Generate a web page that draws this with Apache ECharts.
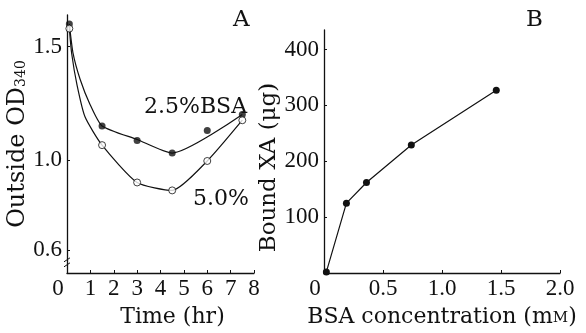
<!DOCTYPE html>
<html>
<head>
    <meta charset="utf-8" />
    <title></title>
    <style>
        body { margin: 0; background: #fff; }
        #chart { width: 586px; height: 333px; }
    </style>
</head>
<body>
    <div id="chart"></div>
    <script src="https://cdn.jsdelivr.net/npm/echarts@6/dist/echarts.min.js"></script>
    <script>
        // panel A: outside OD340 vs time
        var timeTicks = [0, 1, 2, 3, 4, 5, 6, 7, 8];
        var odTicks = [0.6, 1.0, 1.5];
        var bsa25Points = [[0.1, 1.6], [1.5, 1.15], [3, 1.085], [4.5, 1.03], [6, 1.13], [7.5, 1.2]];
        var bsa25Curve = [[0.1, 1.6], [0.26, 1.47], [0.56, 1.356], [0.98, 1.246], [1.5, 1.15], [3, 1.09], [4.5, 1.03], [7.5, 1.2]];
        var bsa50Points = [[0.1, 1.58], [1.5, 1.065], [3, 0.9], [4.5, 0.865], [6, 0.995], [7.5, 1.175]];
        var bsa50Curve = [[0.1, 1.58], [0.2, 1.47], [0.43, 1.33], [0.77, 1.19], [1.5, 1.065], [3, 0.9], [4.5, 0.865], [6, 0.995], [7.5, 1.175]];

        // panel B: bound XA vs BSA concentration
        var concTicks = [0, 0.5, 1.0, 1.5, 2.0];
        var boundTicks = [100, 200, 300, 400];
        var boundXA = [[0.02, 2], [0.19, 125], [0.36, 162], [0.74, 229], [1.46, 327]];

        var font = 'Liberation Serif';
        var wide = 'DejaVu Serif';
        var ink = '#111';

        var axisBase = {
            axisLine: { show: true, lineStyle: { color: ink, width: 1.3 } },
            axisTick: { show: true, inside: true, length: 3, lineStyle: { color: ink } },
            splitLine: { show: false },
            axisLabel: { color: ink, fontFamily: font, fontSize: 23 },
            nameTextStyle: { color: ink, fontFamily: wide, fontSize: 22 }
        };
        function ax(extra) {
            return echarts.util.merge(echarts.util.clone(axisBase), extra, true);
        }
        function note(text, left, top, size) {
            return { text: text, left: left, top: top, textStyle: { fontFamily: wide, fontSize: size, fontWeight: 'normal', color: ink } };
        }

        var option = {
            backgroundColor: '#fff',
            animation: false,
            title: [
                note('A', 228, 4, 23),
                note('B', 521, 4, 23),
                note('2.5%BSA', 139, 91, 22),
                note('5.0%', 188, 183, 22)
            ],
            grid: [
                { left: 67, right: 332, top: 15, bottom: 49 },
                { left: 324, right: 26, top: 30, bottom: 51 }
            ],
            xAxis: [
                ax({
                    gridIndex: 0, type: 'value', min: 0, max: 8,
                    axisTick: { customValues: timeTicks },
                    axisLabel: {
                        customValues: timeTicks, margin: 4,
                        formatter: function (v) { return v === 0 ? '{z|0}' : String(v); },
                        rich: { z: { fontFamily: font, fontSize: 23, color: ink, padding: [0, 18, 0, 0] } }
                    },
                    name: 'Time (hr)', nameLocation: 'middle', nameGap: 33,
                    nameTextStyle: { padding: [0, 0, 0, 24] }
                }),
                ax({
                    gridIndex: 1, type: 'value', min: 0, max: 2,
                    axisTick: { customValues: concTicks },
                    axisLabel: {
                        customValues: concTicks, margin: 4,
                        formatter: function (v) { return v === 0 ? '{z|0}' : v.toFixed(1); },
                        rich: { z: { fontFamily: font, fontSize: 23, color: ink, padding: [0, 18, 0, 0] } }
                    },
                    name: 'BSA concentration (m{s|M})', nameLocation: 'middle', nameGap: 33,
                    nameTextStyle: { rich: { s: { fontFamily: wide, fontSize: 15, color: ink, padding: [3, 0, 0, 0] } } }
                })
            ],
            yAxis: [
                ax({
                    gridIndex: 0, type: 'value', min: 0.5, max: 1.64,
                    axisTick: { customValues: odTicks },
                    axisLabel: {
                        customValues: odTicks, margin: 5,
                        formatter: function (v) { return v.toFixed(1); }
                    },
                    name: 'Outside OD{sub|340}', nameLocation: 'middle', nameGap: 35, nameRotate: 90,
                    nameTextStyle: {
                        fontSize: 24,
                        rich: { sub: { fontFamily: wide, fontSize: 14, color: ink, padding: [9, 0, 0, 0] } }
                    }
                }),
                ax({
                    gridIndex: 1, type: 'value', min: 0, max: 435,
                    axisTick: { customValues: boundTicks },
                    axisLabel: { customValues: boundTicks, margin: 5 },
                    name: 'Bound XA (μg)', nameLocation: 'middle', nameGap: 42, nameRotate: 90,
                    nameTextStyle: { fontSize: 23, padding: [0, 32, 0, 0] }
                })
            ],
            series: [
                {
                    type: 'line', xAxisIndex: 0, yAxisIndex: 0, data: bsa25Curve,
                    showSymbol: false, smooth: 0.2, lineStyle: { color: ink, width: 1.2 }, z: 2
                },
                {
                    type: 'line', xAxisIndex: 0, yAxisIndex: 0, data: bsa50Curve,
                    showSymbol: false, smooth: 0.2, lineStyle: { color: ink, width: 1.2 }, z: 2
                },
                {
                    type: 'scatter', xAxisIndex: 0, yAxisIndex: 0, data: bsa25Points,
                    symbol: 'circle', symbolSize: 7, itemStyle: { color: ink }, z: 3
                },
                {
                    type: 'scatter', xAxisIndex: 0, yAxisIndex: 0, data: bsa50Points,
                    symbol: 'circle', symbolSize: 7,
                    itemStyle: { color: '#fff', borderColor: ink, borderWidth: 1 }, z: 3
                },
                {
                    type: 'line', xAxisIndex: 1, yAxisIndex: 1, data: boundXA,
                    symbol: 'circle', symbolSize: 7, showAllSymbol: true,
                    itemStyle: { color: ink }, lineStyle: { color: ink, width: 1.2 }
                }
            ]
        };

        var chart = echarts.init(document.getElementById('chart'), null, { renderer: 'canvas' });
        chart.setOption(option);

        // axis break mark near the bottom of the OD axis
        var p = chart.convertToPixel({ xAxisIndex: 0, yAxisIndex: 0 }, [0, 0.545]);
        chart.setOption({
            graphic: [{
                type: 'group', x: p[0], y: p[1],
                children: [
                    { type: 'rect', shape: { x: -3, y: -3, width: 6, height: 5 }, style: { fill: '#fff' } },
                    { type: 'line', shape: { x1: -3, y1: -1, x2: 3, y2: -5 }, style: { stroke: ink, lineWidth: 1 } },
                    { type: 'line', shape: { x1: -3, y1: 4, x2: 3, y2: 0 }, style: { stroke: ink, lineWidth: 1 } }
                ]
            }]
        });
    </script>
</body>
</html>
